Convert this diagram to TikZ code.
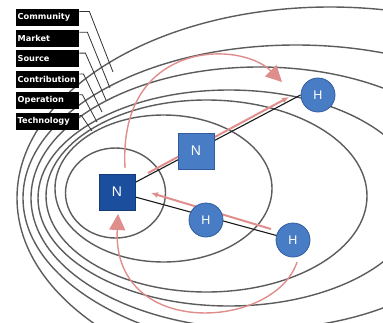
\documentclass[tikz,border=0pt]{standalone}
\usepackage{fontspec}
\setmainfont{Liberation Sans}
\newfontfamily\labfont{DejaVu Sans}
\usetikzlibrary{arrows.meta,backgrounds}
\definecolor{ellgray}{RGB}{92,92,92}
\definecolor{pinkarr}{RGB}{224,142,140}
\definecolor{ndark}{RGB}{28,78,158}
\definecolor{ndarkb}{RGB}{20,58,120}
\definecolor{nlight}{RGB}{72,124,196}
\definecolor{nlightb}{RGB}{48,92,158}
\begin{document}
\begin{tikzpicture}[x=1pt,y=-1pt,
  ell/.style={draw=ellgray,line width=1.4pt},
  lab/.style={fill=black,text=white,font=\labfont\bfseries\fontsize{8.2}{9}\selectfont,
    anchor=north west,minimum height=17pt,inner xsep=1.5pt,inner ysep=1pt,text width=60pt,align=left},
  leadline/.style={draw=black!80,line width=0.8pt},
  nsq/.style={rectangle,minimum size=36pt,inner sep=0pt,text=white,line width=0.8pt,
    font=\fontsize{14}{14}\selectfont},
  hc/.style={circle,minimum size=34pt,inner sep=0pt,fill=nlight,draw=nlightb,line width=0.8pt,
    text=white,font=\fontsize{12.5}{12}\selectfont},
  blk/.style={draw=black!90,line width=1.1pt},
  pinkline/.style={draw=pinkarr,line width=2pt,-{Latex[length=7pt,width=6pt]}},
  pinkarc/.style={draw=pinkarr,line width=1.4pt,-{Triangle[length=16pt,width=16pt]}}
]
\useasboundingbox (0,0) rectangle (383,322);
% labels
\node[lab] (c1) at (16,8.5) {Community};
\node[lab] (c2) at (16,29.3) {Market};
\node[lab] (c3) at (16,50.1) {Source};
\node[lab] (c4) at (16,70.9) {Contribution};
\node[lab] (c5) at (16,91.7) {Operation};
\node[lab] (c6) at (16,112.5) {Technology};
% nodes
\node[nsq,fill=ndark,draw=ndarkb] (N1) at (117,192) {N};
\node[nsq,fill=nlight,draw=nlightb] (N2) at (196,151) {N};
\node[hc] (H1) at (206,220) {H};
\node[hc] (H2) at (293,240) {H};
\node[hc] (H3) at (318,95) {H};
% leader ends
\coordinate (e1) at (113,72);
\coordinate (e2) at (110,88);
\coordinate (e3) at (106,100);
\coordinate (e4) at (102,112);
\coordinate (e5) at (97,122);
\coordinate (e6) at (92,131);
% arc ends
\coordinate (a1s) at (125,168);
\coordinate (a1e) at (282,82);
\coordinate (a2s) at (297,262);
\coordinate (a2e) at (118,214);
\coordinate (p1s) at (148,173);
\coordinate (p1e) at (289,97);
\coordinate (p2s) at (271,229);
\coordinate (p2e) at (151,193);
\begin{pgfonlayer}{background}
\fill[white] (0,0) rectangle (383,322);
\begin{scope}
\clip (0,0) rectangle (383,322);
\draw[ell] (115.5,193) ellipse [x radius=50pt, y radius=45pt];
\draw[ell] (163.5,188.5) ellipse [x radius=108.5pt, y radius=73.5pt];
\draw[ell] (206.5,196) ellipse [x radius=160.5pt, y radius=96pt];
\draw[ell] (229,198) ellipse [x radius=191pt, y radius=108pt];
\draw[ell] (259,198) ellipse [x radius=228pt, y radius=131pt];
\draw[ell] (296,198) ellipse [x radius=273pt, y radius=153pt];
\draw[ell] (330,198) ellipse [x radius=313pt, y radius=191pt];
\end{scope}
\draw[leadline] ([yshift=-3pt]c1.north east) -- ++(10,0) -- (e1);
\draw[leadline] ([yshift=-3pt]c2.north east) -- ++(8,0) -- (e2);
\draw[leadline] ([yshift=-3pt]c3.north east) -- ++(6,0) -- (e3);
\draw[leadline] ([yshift=-3pt]c4.north east) -- ++(4,0) -- (e4);
\draw[leadline] ([yshift=-3pt]c5.north east) -- ++(3,0) -- (e5);
\draw[leadline] ([yshift=-3pt]c6.north east) -- ++(2,0) -- (e6);
\draw[blk] (N1.center) -- (H3.west);
\draw[blk] (N1.center) -- (H2.center);
\draw[pinkline] (p1s) -- (p1e);
\draw[pinkline] (p2s) -- (p2e);
\draw[pinkarc] (a1s) .. controls (118,40) and (240,40) .. (a1e);
\draw[pinkarc] (a2s) .. controls (275,330) and (112,340) .. (a2e);
\end{pgfonlayer}
\end{tikzpicture}
\end{document}
